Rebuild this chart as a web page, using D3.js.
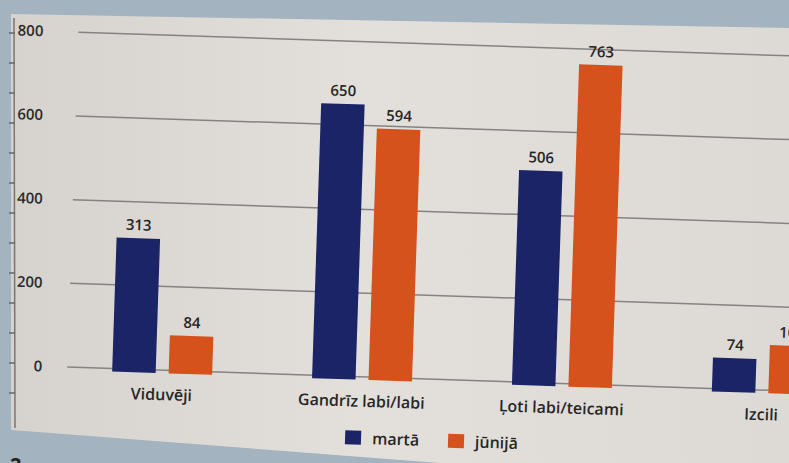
<!DOCTYPE html>
<meta charset="utf-8">
<html>
  <head>
    <script src="https://cdn.jsdelivr.net/npm/d3@7"></script>
    <style>
      body { margin: 0; background: #a3b3c0; }
      svg { display: block; }
    </style>
  </head>
  <body>
    <div id="chart"></div>

    <script type="text/javascript">
      // data
      var categories = ["Viduvēji", "Gandrīz labi/labi", "Ļoti labi/teicami", "Izcili"];
      var series = ["martā", "jūnijā"];
      var marta = [313, 650, 506, 74];
      var junija = [84, 594, 763, 108];
      var yTicks = [0, 200, 400, 600, 800];

      var width = 789,
          height = 463,
          colors = ["#1b2467", "#d5521d"],
          font = "'Open Sans', sans-serif";

      var data = categories.map(function(c, i){
        return { cat: c, values: [marta[i], junija[i]] };
      });

      var svg = d3.select("#chart").append("svg")
          .attr("width", width)
          .attr("height", height);

      // the photographed page
      var grad = svg.append("defs").append("linearGradient")
          .attr("id", "paper").attr("x1", 0).attr("x2", 1).attr("y1", 0).attr("y2", 0);
      grad.append("stop").attr("offset", "0%").attr("stop-color", "#d6d2cd");
      grad.append("stop").attr("offset", "45%").attr("stop-color", "#e3e0dc");
      grad.append("stop").attr("offset", "100%").attr("stop-color", "#dddad6");

      svg.append("rect").attr("width", width).attr("height", height).style("fill", "#a3b3c0");
      svg.append("polygon")
          .attr("points", "11,14 789,28 789,463 440,463 11,430")
          .style("fill", "url(#paper)");
      svg.append("text")
          .attr("x", 10).attr("y", 472)
          .text("2.")
          .style("font-family", font)
          .style("font-weight", "700")
          .style("font-size", "20px")
          .style("fill", "#222");

      // left ruler of the page
      svg.append("line")
          .attr("x1", 14).attr("x2", 15).attr("y1", 18).attr("y2", 428)
          .style("stroke", "#777").style("stroke-width", "1.5px");
      svg.selectAll(".rtick")
          .data(d3.range(33, 420, 30))
          .enter().append("line")
          .attr("x1", 9).attr("x2", 15)
          .attr("y1", function(d){ return d; }).attr("y2", function(d){ return d; })
          .style("stroke", "#666").style("stroke-width", "1.5px");

      var g = svg.append("g")
          .attr("transform", "rotate(1.9, 400, 230)");

      var y = d3.scaleLinear().domain([0, 800]).range([378, 43]);

      var x0 = d3.scaleBand().domain(categories).range([67, 867])
          .paddingInner(0.5).paddingOuter(0.25);
      var x1 = d3.scaleBand().domain(series).range([0, x0.bandwidth()]).paddingInner(0.23);

      // grid + y labels
      g.selectAll(".grid")
          .data(yTicks)
          .enter().append("line")
          .attr("x1", 72).attr("x2", 900)
          .attr("y1", function(d){ return y(d); })
          .attr("y2", function(d){ return y(d); })
          .style("stroke", "#858381")
          .style("stroke-width", "1.5px");

      g.selectAll(".ylab")
          .data(yTicks)
          .enter().append("text")
          .attr("x", function(d){ return 47 - 10 * d / 800; })
          .attr("y", function(d){ return y(d); })
          .attr("dy", "0.35em")
          .style("text-anchor", "end")
          .style("font-family", font)
          .style("font-weight", "600")
          .style("font-size", "15px")
          .style("fill", "#2b2b2b")
          .text(function(d){ return d; });

      // bars
      var groups = g.selectAll(".cat")
          .data(data)
          .enter().append("g")
          .attr("transform", function(d){ return "translate(" + x0(d.cat) + ",0)"; });

      groups.selectAll("rect")
          .data(function(d){ return d.values.map(function(v, i){ return { s: series[i], v: v, i: i }; }); })
          .enter().append("rect")
          .attr("x", function(d){ return x1(d.s); })
          .attr("y", function(d){ return y(d.v); })
          .attr("width", x1.bandwidth())
          .attr("height", function(d){ return y(0) - y(d.v) + 3; })
          .style("fill", function(d){ return colors[d.i]; });

      groups.selectAll(".val")
          .data(function(d){ return d.values.map(function(v, i){ return { s: series[i], v: v }; }); })
          .enter().append("text")
          .attr("x", function(d){ return x1(d.s) + x1.bandwidth() / 2; })
          .attr("y", function(d){ return y(d.v) - 8; })
          .style("text-anchor", "middle")
          .style("font-family", font)
          .style("font-weight", "600")
          .style("font-size", "15px")
          .style("fill", "#262626")
          .text(function(d){ return d.v; });

      groups.append("text")
          .attr("x", x0.bandwidth() / 2)
          .attr("y", y(0) + 30)
          .style("text-anchor", "middle")
          .style("font-family", font)
          .style("font-weight", "600")
          .style("font-size", "16px")
          .style("fill", "#262626")
          .text(function(d){ return d.cat; });

      // legend
      var legend = g.selectAll(".legend")
          .data(series)
          .enter().append("g")
          .attr("transform", function(d, i){ return "translate(" + (352 + i * 103) + ",432)"; });

      legend.append("rect")
          .attr("width", 16).attr("height", 14)
          .style("fill", function(d, i){ return colors[i]; });

      legend.append("text")
          .attr("x", 27).attr("y", 13)
          .style("font-family", font)
          .style("font-weight", "600")
          .style("font-size", "16px")
          .style("fill", "#262626")
          .text(function(d){ return d; });
    </script>
  </body>
</html>
